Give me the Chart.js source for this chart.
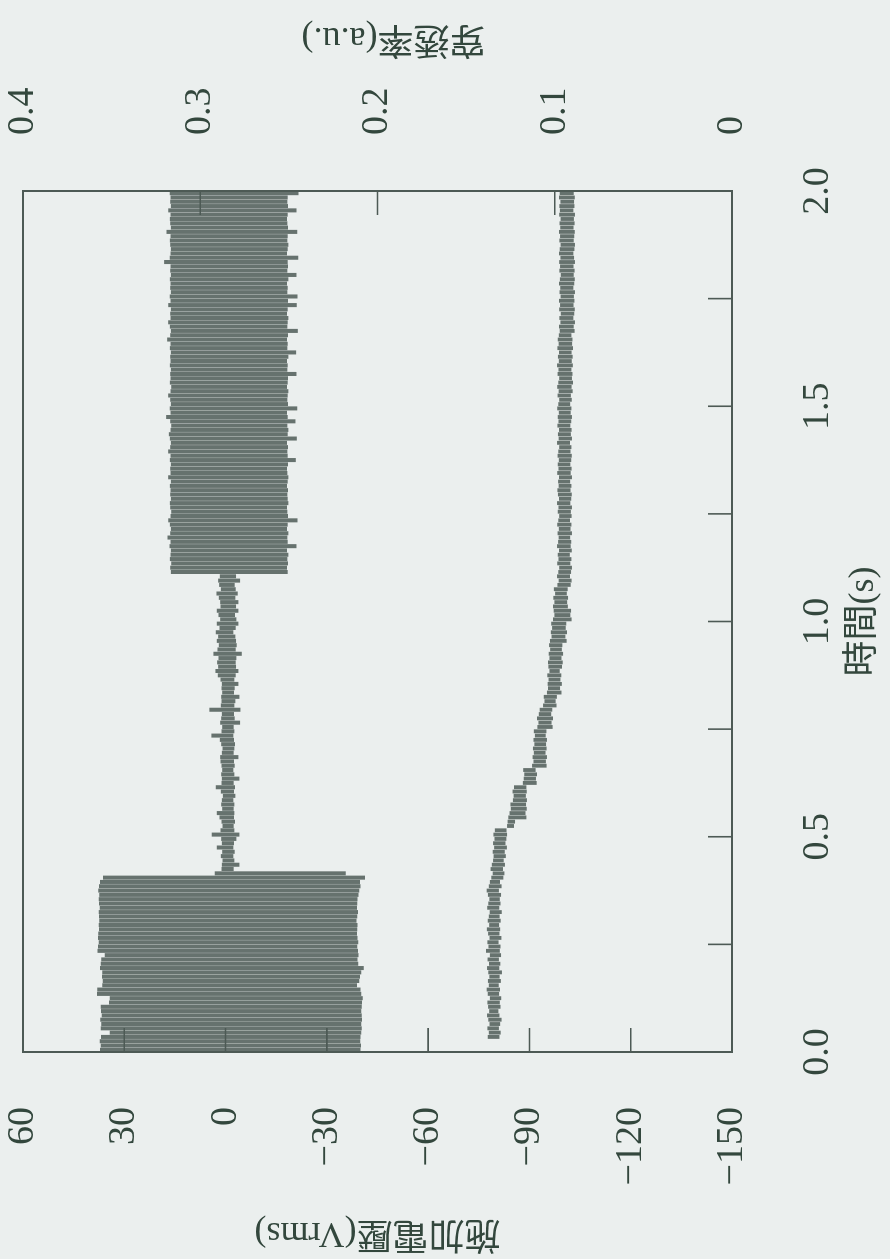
<!DOCTYPE html>
<html><head><meta charset="utf-8">
<script src="https://cdn.jsdelivr.net/npm/chart.js@4.4.1/dist/chart.umd.min.js"></script>
<style>
html,body{margin:0;padding:0;background:#ebefee;width:890px;height:1259px;overflow:hidden;}
#wrap{position:absolute;left:0;top:0;width:1259px;height:890px;transform-origin:0 0;transform:translate(0px,1259px) rotate(-90deg);}
canvas{display:block;}
</style></head><body>
<div id="wrap"><canvas id="c" width="1259" height="890"></canvas></div>
<script>
// ---- titles and tick labels ----
const timeTitle = '時間(s)';
const voltTitle = '施加電壓(Vrms)';
const transTitle = '穿透率(a.u.)';
const timeTicks = [0, 0.5, 1.0, 1.5, 2.0];
const timeTickLabels = ['0.0', '0.5', '1.0', '1.5', '2.0'];
const timeTickMarks = [0.25, 0.5, 0.75, 1.0, 1.25, 1.5, 1.75];
const voltTicks = [-150, -120, -90, -60, -30, 0, 30, 60];
const voltTickLabels = ['−150', '−120', '−90', '−60', '−30', '0', '30', '60'];
const voltTickMarks = [30, 0, -30, -60, -90, -120];
const transTicks = [0, 0.1, 0.2, 0.3, 0.4];
const transTickLabels = ['0', '0.1', '0.2', '0.3', '0.4'];
const transTickMarks = [0.1, 0.2, 0.3];

// ---- sample times (s), bin centres ----
const sampleTimes = [
0.005,0.015,0.025,0.035,0.045,0.055,0.065,0.075,0.085,0.095,
0.105,0.115,0.125,0.135,0.145,0.155,0.165,0.175,0.185,0.195,
0.205,0.215,0.225,0.235,0.245,0.255,0.265,0.275,0.285,0.295,
0.305,0.315,0.325,0.335,0.345,0.355,0.365,0.375,0.385,0.395,
0.405,0.415,0.425,0.435,0.445,0.455,0.465,0.475,0.485,0.495,
0.505,0.515,0.525,0.535,0.545,0.555,0.565,0.575,0.585,0.595,
0.605,0.615,0.625,0.635,0.645,0.655,0.665,0.675,0.685,0.695,
0.705,0.715,0.725,0.735,0.745,0.755,0.765,0.775,0.785,0.795,
0.805,0.815,0.825,0.835,0.845,0.855,0.865,0.875,0.885,0.895,
0.905,0.915,0.925,0.935,0.945,0.955,0.965,0.975,0.985,0.995,
1.005,1.015,1.025,1.035,1.045,1.055,1.065,1.075,1.085,1.095,
1.105,1.115,1.125,1.135,1.145,1.155,1.165,1.175,1.185,1.195,
1.205,1.215,1.225,1.235,1.245,1.255,1.265,1.275,1.285,1.295,
1.305,1.315,1.325,1.335,1.345,1.355,1.365,1.375,1.385,1.395,
1.405,1.415,1.425,1.435,1.445,1.455,1.465,1.475,1.485,1.495,
1.505,1.515,1.525,1.535,1.545,1.555,1.565,1.575,1.585,1.595,
1.605,1.615,1.625,1.635,1.645,1.655,1.665,1.675,1.685,1.695,
1.705,1.715,1.725,1.735,1.745,1.755,1.765,1.775,1.785,1.795,
1.805,1.815,1.825,1.835,1.845,1.855,1.865,1.875,1.885,1.895,
1.905,1.915,1.925,1.935,1.945,1.955,1.965,1.975,1.985,1.995];

// ---- applied voltage envelope per bin (Vrms): high / low ----
const voltHigh = [
37.2,37.0,37.3,36.9,34.3,37.0,36.8,37.1,36.7,36.9,
37.0,34.5,34.3,38.1,38.0,36.5,36.4,36.6,36.5,37.2,
37.0,36.8,35.8,37.9,37.8,37.6,37.8,37.7,37.5,37.6,
37.4,37.5,37.6,37.3,37.5,37.6,37.4,37.7,37.5,37.2,
36.3,3.2,1.2,1.1,0.9,1.4,1.0,2.6,1.1,1.3,
4.1,1.5,0.9,1.2,1.8,2.6,1.0,1.3,1.1,0.8,
1.4,2.9,1.2,1.1,1.3,1.0,1.2,1.5,1.6,1.1,
0.9,1.3,1.7,4.2,1.2,1.0,1.6,1.3,1.1,4.8,
1.4,1.2,1.3,1.0,1.2,1.1,1.5,2.3,3.0,2.2,
2.5,2.1,3.6,2.4,2.0,2.6,2.2,2.9,1.8,2.6,
1.6,2.1,2.6,1.5,1.6,2.0,2.7,1.4,1.9,2.2,
1.7,16.2,16.4,16.1,16.5,16.3,16.2,16.6,16.3,17.2,
16.4,16.2,16.5,17.0,16.3,16.1,16.4,16.5,16.2,16.4,
16.3,16.5,16.2,17.0,16.3,16.4,16.2,16.5,16.3,17.0,
16.4,16.2,16.5,16.8,16.3,16.1,16.4,17.6,16.3,16.5,
16.2,16.4,17.0,16.3,16.1,16.5,16.3,16.4,16.2,16.5,
16.3,16.4,16.2,16.5,16.3,17.3,16.4,16.2,16.5,17.0,
16.3,16.4,16.2,17.0,16.3,16.5,16.2,16.4,16.3,16.5,
16.2,16.4,16.3,18.2,16.5,16.3,16.2,16.4,16.5,16.3,
17.5,16.2,16.4,16.5,16.3,17.0,16.2,16.4,16.3,16.5];
const voltLow = [
-40.0,-40.1,-39.9,-40.0,-40.2,-40.3,-40.2,-40.4,-40.3,-40.2,
-40.3,-40.4,-40.6,-40.2,-40.0,-38.9,-39.6,-39.8,-40.2,-40.9,
-39.3,-39.1,-39.4,-39.2,-39.0,-39.3,-39.1,-38.9,-39.0,-39.1,
-38.8,-39.0,-39.2,-38.9,-39.0,-39.1,-39.4,-39.6,-40.0,-39.8,
-41.3,-35.6,-2.4,-4.1,-2.6,-2.3,-2.7,-2.3,-2.5,-3.2,
-4.1,-2.6,-2.4,-2.8,-2.5,-2.6,-2.4,-2.6,-2.3,-2.9,
-2.5,-2.8,-2.4,-4.1,-2.6,-2.3,-2.7,-2.5,-3.8,-2.4,
-2.6,-2.8,-2.5,-2.3,-2.6,-2.4,-4.3,-2.7,-2.5,-4.4,
-2.6,-2.9,-4.1,-2.5,-2.7,-3.8,-2.6,-3.0,-3.8,-3.1,
-3.0,-3.2,-4.8,-3.0,-3.3,-3.1,-2.9,-2.3,-3.0,-3.8,
-3.2,-2.8,-3.8,-3.1,-3.8,-2.9,-3.6,-3.0,-2.7,-4.3,
-3.1,-18.4,-18.2,-18.5,-18.3,-18.6,-18.2,-21.0,-18.4,-18.3,
-18.6,-18.2,-18.4,-21.3,-18.5,-18.3,-18.2,-18.6,-18.4,-18.3,
-18.5,-18.2,-18.4,-18.6,-18.3,-18.2,-18.5,-20.8,-18.4,-18.3,
-18.5,-18.2,-21.1,-18.4,-18.6,-18.3,-20.7,-18.4,-18.2,-21.2,
-18.5,-18.3,-18.4,-18.6,-18.2,-18.4,-18.5,-21.0,-18.3,-18.4,
-18.2,-18.6,-20.9,-18.3,-18.4,-18.2,-18.5,-21.4,-18.3,-18.4,
-18.6,-18.2,-18.4,-21.1,-18.5,-21.3,-18.3,-18.4,-18.2,-18.6,
-21.0,-18.3,-18.5,-18.4,-21.5,-18.2,-18.4,-18.6,-18.3,-18.4,
-21.2,-18.5,-18.3,-18.2,-18.4,-21.0,-18.5,-18.3,-18.4,-21.6];

// ---- transmittance envelope per bin (a.u.): low / high ----
const transLow = [
null,null,null,0.1312,0.1305,0.1315,0.1308,0.1300,0.1312,0.1318,
0.1306,0.1310,0.1302,0.1314,0.1309,0.1316,0.1304,0.1311,0.1298,0.1313,
0.1307,0.1315,0.1303,0.1310,0.1306,0.1317,0.1301,0.1312,0.1308,0.1314,
0.1305,0.1311,0.1299,0.1313,0.1306,0.1310,0.1303,0.1315,0.1300,0.1309,
0.1290,0.1284,0.1292,0.1281,0.1288,0.1276,0.1282,0.1270,0.1278,0.1273,
0.1269,0.1272,0.1230,0.1224,0.1160,0.1165,0.1158,0.1162,0.1157,0.1163,
0.1158,0.1160,0.1102,0.1106,0.1100,0.1108,0.1046,0.1050,0.1044,0.1052,
0.1046,0.1049,0.1044,0.1051,0.1047,0.1012,0.1018,0.1010,0.1020,0.1014,
0.0990,0.0995,0.0988,0.0962,0.0970,0.0960,0.0968,0.0963,0.0972,0.0959,
0.0955,0.0962,0.0953,0.0960,0.0957,0.0933,0.0940,0.0931,0.0938,0.0935,
0.0905,0.0912,0.0908,0.0926,0.0930,0.0925,0.0932,0.0927,0.0910,0.0905,
0.0914,0.0908,0.0903,0.0912,0.0906,0.0915,0.0904,0.0910,0.0907,0.0913,
0.0903,0.0911,0.0906,0.0914,0.0905,0.0909,0.0903,0.0912,0.0907,0.0904,
0.0911,0.0906,0.0913,0.0903,0.0910,0.0905,0.0912,0.0907,0.0904,0.0911,
0.0906,0.0914,0.0903,0.0909,0.0905,0.0912,0.0907,0.0903,0.0910,0.0906,
0.0913,0.0904,0.0909,0.0899,0.0905,0.0897,0.0903,0.0900,0.0906,0.0898,
0.0904,0.0899,0.0905,0.0897,0.0902,0.0900,0.0906,0.0888,0.0893,0.0886,
0.0895,0.0890,0.0887,0.0894,0.0889,0.0892,0.0886,0.0895,0.0890,0.0887,
0.0893,0.0888,0.0894,0.0886,0.0891,0.0895,0.0889,0.0886,0.0893,0.0890,
0.0887,0.0894,0.0888,0.0892,0.0886,0.0895,0.0889,0.0891,0.0887,0.0893];
const transHigh = [
null,null,null,0.1378,0.1372,0.1380,0.1368,0.1375,0.1382,0.1370,
0.1376,0.1380,0.1366,0.1378,0.1384,0.1372,0.1377,0.1369,0.1375,0.1382,
0.1371,0.1379,0.1366,0.1388,0.1374,0.1380,0.1368,0.1376,0.1383,0.1370,
0.1378,0.1372,0.1367,0.1381,0.1375,0.1369,0.1377,0.1384,0.1372,0.1366,
0.1358,0.1350,0.1362,0.1355,0.1348,0.1345,0.1350,0.1342,0.1348,0.1340,
0.1346,0.1338,0.1269,0.1266,0.1262,0.1255,0.1248,0.1250,0.1236,0.1232,
0.1238,0.1230,0.1180,0.1175,0.1172,0.1178,0.1128,0.1120,0.1125,0.1118,
0.1123,0.1115,0.1120,0.1112,0.1118,0.1098,0.1092,0.1100,0.1090,0.1085,
0.1066,0.1058,0.1062,0.1044,0.1038,0.1040,0.1035,0.1042,0.1030,0.1036,
0.1038,0.1030,0.1034,0.1026,0.1032,0.1027,0.1018,0.1022,0.1015,0.1020,
0.1010,0.1002,0.1006,0.1010,0.1002,0.1008,0.0998,0.1005,0.0985,0.0978,
0.0987,0.0980,0.0975,0.0986,0.0979,0.0983,0.0976,0.0987,0.0981,0.0978,
0.0984,0.0977,0.0986,0.0980,0.0975,0.0983,0.0979,0.0987,0.0976,0.0982,
0.0985,0.0978,0.0981,0.0976,0.0986,0.0979,0.0983,0.0977,0.0984,0.0980,
0.0975,0.0987,0.0978,0.0982,0.0976,0.0985,0.0979,0.0983,0.0977,0.0986,
0.0980,0.0975,0.0984,0.0978,0.0986,0.0980,0.0975,0.0984,0.0979,0.0987,
0.0977,0.0982,0.0976,0.0985,0.0978,0.0983,0.0977,0.0972,0.0976,0.0968,
0.0974,0.0966,0.0975,0.0970,0.0976,0.0967,0.0973,0.0969,0.0976,0.0971,
0.0966,0.0974,0.0970,0.0975,0.0968,0.0976,0.0972,0.0967,0.0974,0.0970,
0.0976,0.0969,0.0973,0.0967,0.0975,0.0971,0.0974,0.0968,0.0976,0.0972];

// ---- styles ----
const paper = '#ebefee';
const ink = '#33473d';
const markColor = '#66726e';
const frameColor = '#4d5a55';
const tickFont = { family: "'Liberation Serif', 'Noto Sans CJK TC', serif", size: 38 };
const titleFont = { family: "'Liberation Serif', 'Noto Sans CJK TC', serif", size: 36 };

const voltData = sampleTimes.map((t, i) => ({ x: t, y: [voltLow[i], voltHigh[i]] }));
const transData = [];
sampleTimes.forEach((t, i) => { if (transLow[i] !== null) transData.push({ x: t, y: [transLow[i], transHigh[i]] }); });

const framePlugin = {
  id: 'framePlugin',
  beforeDraw(chart) {
    const ctx = chart.ctx;
    ctx.save(); ctx.fillStyle = paper; ctx.fillRect(0, 0, chart.width, chart.height); ctx.restore();
  },
  afterDatasetsDraw(chart) {
    const { ctx, chartArea: a, scales } = chart;
    ctx.save();
    ctx.strokeStyle = frameColor;
    ctx.lineWidth = 2;
    ctx.strokeRect(a.left, a.top, a.right - a.left, a.bottom - a.top);
    ctx.lineWidth = 1.6;
    ctx.beginPath();
    timeTickMarks.forEach(v => { const x = scales.x.getPixelForValue(v); ctx.moveTo(x, a.bottom); ctx.lineTo(x, a.bottom - 24); });
    voltTickMarks.forEach(v => { const y = scales.yV.getPixelForValue(v); ctx.moveTo(a.left, y); ctx.lineTo(a.left + 24, y); });
    transTickMarks.forEach(v => { const y = scales.yT.getPixelForValue(v); ctx.moveTo(a.right, y); ctx.lineTo(a.right - 24, y); });
    ctx.stroke();
    // right axis title, reading bottom-to-top like the left one
    ctx.fillStyle = ink;
    ctx.font = titleFont.size + 'px ' + titleFont.family;
    ctx.textAlign = 'center';
    ctx.textBaseline = 'middle';
    ctx.translate(scales.yT.right - 37, (a.top + a.bottom) / 2 + 16);
    ctx.rotate(-Math.PI / 2);
    ctx.fillText(transTitle, 0, 0);
    ctx.restore();
  }
};

new Chart(document.getElementById('c'), {
  type: 'bar',
  data: {
    datasets: [
      { label: voltTitle, data: voltData, yAxisID: 'yV', backgroundColor: markColor, borderWidth: 0,
        grouped: false, barPercentage: 1, categoryPercentage: 0.94 },
      { label: transTitle, data: transData, yAxisID: 'yT', backgroundColor: markColor, borderWidth: 0,
        grouped: false, barPercentage: 1, categoryPercentage: 0.9 }
    ]
  },
  options: {
    responsive: false,
    animation: false,
    devicePixelRatio: 1,
    layout: { padding: { top: 23, left: 0, right: 0, bottom: 0 } },
    plugins: { legend: { display: false }, tooltip: { enabled: false } },
    scales: {
      x: {
        type: 'linear', position: 'bottom', min: 0, max: 2, offset: false,
        afterBuildTicks: s => { s.ticks = timeTicks.map(v => ({ value: v })); },
        afterFit: s => { s.height = 158; s.paddingLeft = 0; s.paddingRight = 0; },
        ticks: { callback: (v, i) => timeTickLabels[i], padding: 63, font: tickFont, color: ink, maxRotation: 0, autoSkip: false },
        grid: { display: false, drawTicks: false },
        border: { display: false },
        title: { display: true, text: timeTitle, font: titleFont, color: ink, padding: { top: 0, bottom: 5 } }
      },
      yV: {
        type: 'linear', position: 'left', min: -150, max: 60,
        afterBuildTicks: s => { s.ticks = voltTicks.map(v => ({ value: v })); },
        afterFit: s => { s.width = 207; s.paddingTop = 0; s.paddingBottom = 0; },
        ticks: { callback: (v, i) => voltTickLabels[i], padding: 55, font: tickFont, color: ink, autoSkip: false },
        grid: { display: false, drawTicks: false },
        border: { display: false },
        title: { display: true, text: voltTitle, font: titleFont, color: ink, padding: { top: 5, bottom: 0 } }
      },
      yT: {
        type: 'linear', position: 'right', min: 0, max: 0.4,
        afterBuildTicks: s => { s.ticks = transTicks.map(v => ({ value: v })); },
        afterFit: s => { s.width = 191; s.paddingTop = 0; s.paddingBottom = 0; },
        ticks: { callback: (v, i) => transTickLabels[i], padding: 56, font: tickFont, color: ink, autoSkip: false },
        grid: { display: false, drawTicks: false },
        border: { display: false },
        title: { display: false, text: transTitle }
      }
    }
  },
  plugins: [framePlugin]
});
</script></body></html>
